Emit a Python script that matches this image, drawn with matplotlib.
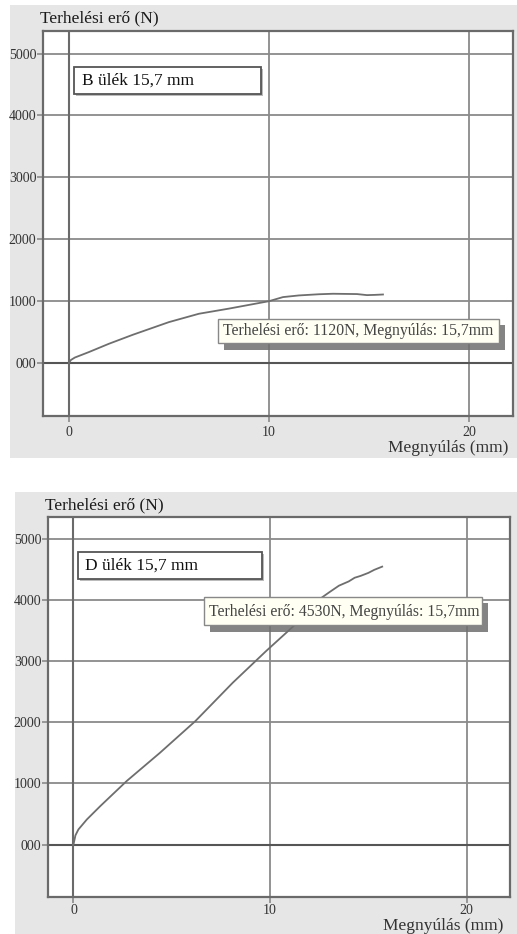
import matplotlib
matplotlib.use("Agg")
import matplotlib.pyplot as plt
from matplotlib.patches import Rectangle

# ---- data ----
b_x = [0, 0.1, 0.3, 1, 2, 3.2, 5, 6.5, 8, 9, 10, 10.7, 11.5, 12.5, 13.2, 14.4, 14.9, 15.3, 15.7]
b_y = [0, 50, 90, 178, 312, 458, 662, 797, 880, 940, 1000, 1066, 1093, 1112, 1120, 1115, 1098, 1102, 1108]

d_x = [0, 0.1, 0.25, 0.68, 1.36, 2.7, 4.4, 6.2, 8.1, 9.8, 11.2, 12.5, 13.0, 13.5, 14.0, 14.3, 14.6, 15.0, 15.3, 15.7]
d_y = [0, 150, 246, 410, 628, 1038, 1503, 2022, 2650, 3170, 3580, 4016, 4130, 4240, 4310, 4370, 4400, 4450, 4500, 4552]

x_ticks = [0, 10, 20]
y_ticks = [0, 1000, 2000, 3000, 4000, 5000]
y_tick_labels = ["000", "1000", "2000", "3000", "4000", "5000"]

panel_titles = ["B ülék 15,7 mm", "D ülék 15,7 mm"]
tooltips = ["Terhelési erő: 1120N, Megnyúlás: 15,7mm", "Terhelési erő: 4530N, Megnyúlás: 15,7mm"]
y_label = "Terhelési erő (N)"
x_label = "Megnyúlás (mm)"

W, H = 517, 934
plt.rcParams['font.family'] = ['Liberation Serif', 'DejaVu Serif']
fig = plt.figure(figsize=(W / 100, H / 100), dpi=100)
fig.patch.set_facecolor("white")

def fx(x):
    return x / W

def fy(y):
    return 1 - y / H

def rect_px(x0, y0, x1, y1, **kw):
    r = Rectangle((fx(x0), fy(y1)), fx(x1) - fx(x0), fy(y0) - fy(y1),
                  transform=fig.transFigure, **kw)
    fig.patches.append(r)
    return r

panels = [
    dict(bg=(10, 5, 517, 458), ax=(43.3, 30.7, 513, 416), xs=b_x, ys=b_y,
         ylab=(40, 18), xlab=(508, 448), xpad=3,
         box=(74, 67, 261, 94), boxtext=(82, 80.5),
         tip=(218, 319, 499, 343), tiptext=(223, 331)),
    dict(bg=(15, 491.7, 517, 934), ax=(48.3, 516.7, 510, 896.7), xs=d_x, ys=d_y,
         ylab=(45, 505), xlab=(503, 926), xpad=1,
         box=(78, 552, 262, 579), boxtext=(85, 565.5),
         tip=(204, 597, 482, 625), tiptext=(209, 612)),
]

for i, p in enumerate(panels):
    rect_px(*p["bg"], facecolor="#e6e6e6", edgecolor="none", zorder=-5)
    x0, y0, x1, y1 = p["ax"]
    ax = fig.add_axes([fx(x0), fy(y1), fx(x1) - fx(x0), fy(y0) - fy(y1)])
    ax.set_zorder(1)
    ax.set_facecolor("white")
    ax.set_xlim(-1.28, 22.2)
    ax.set_ylim(-855, 5370)
    ax.set_xticks(x_ticks)
    ax.set_yticks(y_ticks)
    ax.set_yticklabels(y_tick_labels)
    ax.grid(True, color="#8a8a8a", linewidth=1.3)
    ax.set_axisbelow(True)
    ax.axhline(0, color="#555555", linewidth=1.5, zorder=1.5)
    ax.axvline(0, color="#6a6a6a", linewidth=1.5, zorder=1.5)
    for s in ax.spines.values():
        s.set_color("#6a6a6a")
        s.set_linewidth(1.6)
    ax.tick_params(axis="both", length=4, width=1.2, color="#8a8a8a",
                   labelsize=10, labelcolor="#333333")
    ax.tick_params(axis="x", pad=p["xpad"])
    ax.tick_params(axis="y", pad=1)
    ax.plot(p["xs"], p["ys"], color="#6e6e6e", linewidth=1.3, zorder=3)

    fig.text(fx(p["ylab"][0]), fy(p["ylab"][1]), y_label, fontsize=12.5,
             color="#1a1a1a", ha="left", va="center")
    fig.text(fx(p["xlab"][0]), fy(p["xlab"][1]), x_label, fontsize=12.5,
             color="#333333", ha="right", va="center")

    # title box
    bx0, by0, bx1, by1 = p["box"]
    rect_px(bx0 + 1.5, by0 + 1.5, bx1 + 1.5, by1 + 1.5, facecolor="#bbbbbb",
            edgecolor="none", zorder=5)
    rect_px(bx0, by0, bx1, by1, facecolor="white", edgecolor="#555555",
            linewidth=1.3, zorder=6)
    fig.text(fx(p["boxtext"][0]), fy(p["boxtext"][1]), panel_titles[i],
             fontsize=12.5, color="#111111", ha="left", va="center", zorder=7)

    # tooltip
    tx0, ty0, tx1, ty1 = p["tip"]
    rect_px(tx0 + 6, ty0 + 6, tx1 + 6, ty1 + 7, facecolor="#6f6f6f",
            edgecolor="none", alpha=0.85, zorder=5)
    rect_px(tx0, ty0, tx1, ty1, facecolor="#fffff4", edgecolor="#888888",
            linewidth=1.0, zorder=6)
    fig.text(fx(p["tiptext"][0]), fy(p["tiptext"][1]), tooltips[i],
             fontsize=11.3, color="#444444", ha="left", va="center", zorder=7)

fig.savefig("out.png", dpi=100, facecolor=fig.get_facecolor())
